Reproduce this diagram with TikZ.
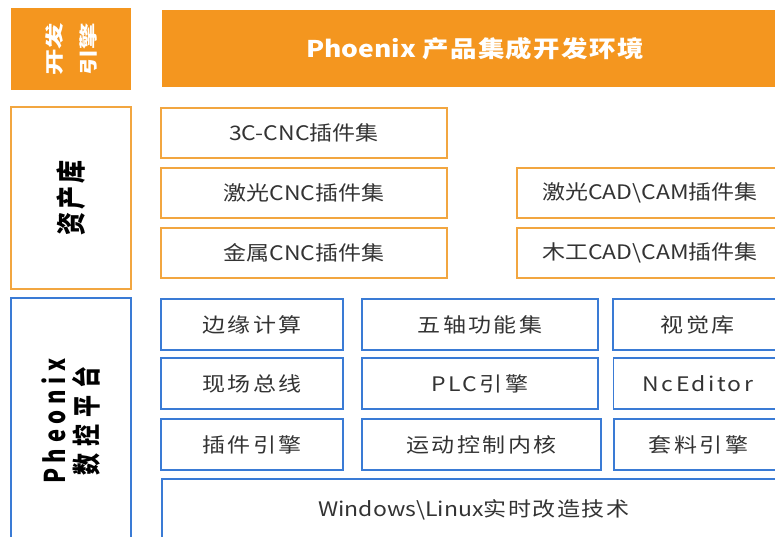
\documentclass[tikz,border=0pt]{standalone}
\usepackage{fontspec}
\setmainfont[FakeStretch=1.15]{Noto Sans CJK SC}
\newfontfamily\plain{Noto Sans CJK SC}
\definecolor{devorange}{HTML}{F4961F}
\definecolor{lineorange}{HTML}{F2A640}
\definecolor{lineblue}{HTML}{3A7BD5}
\definecolor{txtgray}{HTML}{333333}
\newcommand\tall[1]{\scalebox{1}[1.3]{#1}}
\newcommand\squat[1]{\scalebox{1}[0.8]{#1}}
\begin{document}
\begin{tikzpicture}[
				x=1pt, y=-1pt,
				every node/.style={inner sep=0pt, text=txtgray, font=\fontsize{20}{24}\selectfont},
				engine/.style={fill=devorange, text=white},
				side/.style={rotate=90, align=center, text=black},
				asset/.style={draw=lineorange, line width=1.8pt, fill=white, minimum height=50},
				core/.style={draw=lineblue, line width=1.8pt, fill=white, minimum height=51},
				spaced/.style={font=\fontsize{20}{24}\selectfont\addfontfeatures{LetterSpace=12}}
			]
			\useasboundingbox (0,0) rectangle (775,536);
			\clip (0,0) rectangle (775,536);
			\node[engine, side, text=white, minimum width=82, minimum height=120,
				font=\fontsize{23}{34}\selectfont\bfseries] (dev) at (71,49) {\squat{开发}\\\squat{引擎}};
			\node[engine, minimum width=626, minimum height=77,
				font=\fontsize{23}{28}\selectfont\bfseries] (ide) at (475,48.5) {Phoenix {\addfontfeatures{LetterSpace=6}产品集成开发环境}};
			\node[asset, side, minimum width=182, minimum height=120,
				font=\fontsize{23}{26}\selectfont\plain\bfseries\addfontfeatures{LetterSpace=13}] (lib) at (71,198) {\tall{资产库}};
			\node[asset, minimum width=286] (c3) at (304,133) {3C-CNC插件集};
			\node[asset, minimum width=286] (laser) at (304,193) {激光CNC插件集};
			\node[asset, minimum width=286] (metal) at (304,253) {金属CNC插件集};
			\node[asset, minimum width=266] (lasercad) at (650,193) {激光CAD\textbackslash CAM插件集};
			\node[asset, minimum width=266] (woodcad) at (650,253) {木工CAD\textbackslash CAM插件集};
			\node[core, side, minimum width=246, minimum height=120,
				font=\fontsize{22}{32}\selectfont\plain\bfseries] (plat) at (71,421)
				{\tall{\addfontfeatures{LetterSpace=26}Pheonix}\\\tall{\addfontfeatures{LetterSpace=32}数控平台}};
			\node[core, spaced, minimum width=182] (edge) at (252,324.5) {边缘计算};
			\node[core, spaced, minimum width=182] (bus) at (252,383.5) {现场总线};
			\node[core, spaced, minimum width=182] (plugin) at (252,444.5) {插件引擎};
			\node[core, spaced, minimum width=236] (axis) at (480,324.5) {五轴功能集};
			\node[core, spaced, minimum width=236] (plc) at (480,383.5) {PLC引擎};
			\node[core, spaced, minimum width=239] (motion) at (481.5,444.5) {运动控制内核};
			\node[core, spaced, minimum width=169] (vision) at (697.5,324.5) {视觉库};
			\node[core, spaced, minimum width=169] (nced) at (698,383.5) {NcEditor};
			\node[core, spaced, minimum width=169] (nest) at (698.5,444.5) {套料引擎};
			\node[core, minimum width=624, minimum height=62] (rtos) at (474,510) {Windows\textbackslash Linux{\addfontfeatures{LetterSpace=8}实时改造技术}};
		\end{tikzpicture}
\end{document}
